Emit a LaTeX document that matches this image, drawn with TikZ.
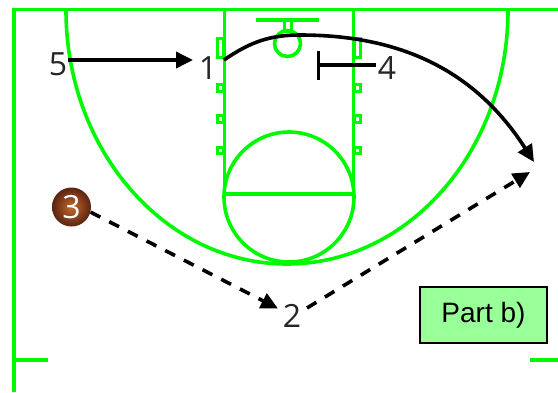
\documentclass[tikz,border=0pt]{standalone}
\usepackage{fontspec}
\setmainfont{Open Sans}
\newfontfamily\partfont{Liberation Sans}
\usetikzlibrary{arrows.meta}
\definecolor{court}{HTML}{00F800}
\definecolor{ink}{HTML}{262626}
\definecolor{partfill}{HTML}{99FF99}
\definecolor{ballin}{HTML}{C4682C}
\definecolor{ballout}{HTML}{5A2410}
\tikzset{
  courtline/.style={draw=court,line width=3.6pt},
  markbox/.style={draw=court,line width=3pt,fill=white},
  player/.style={inner sep=0pt,text=ink,font=\fontsize{32}{32}\selectfont},
  move/.style={draw=black,line width=3.6pt,-{Triangle[length=17pt,width=16pt]}},
  passline/.style={move,dash pattern=on 11pt off 10pt},
  screenline/.style={draw=black,line width=3.6pt},
  partbox/.style={draw=black,line width=2.4pt,fill=partfill,text=black,minimum width=127pt,minimum height=56pt,inner sep=0pt,font=\partfont\fontsize{28}{28}\selectfont},
  ballnode/.style={circle,minimum size=39pt,inner sep=0pt,inner color=ballin,outer color=ballout,text=white,font=\fontsize{32}{32}\selectfont}
}
\begin{document}
\begin{tikzpicture}[x=1pt,y=-1pt]
\useasboundingbox (0,0) rectangle (558,392);
% court
\draw[courtline] (14,392) -- (14,9.5) -- (558,9.5);
\draw[courtline,line width=4.6pt] (14,360) -- (48,360);
\draw[courtline,line width=4.6pt] (530,360) -- (558,360);
\draw[courtline] (66,10) arc[start angle=180,end angle=360,x radius=221,y radius=-254];
\draw[courtline] (224.5,10) -- (224.5,194);
\draw[courtline] (353.5,10) -- (353.5,194);
\draw[courtline] (289,197) circle[radius=65];
\draw[courtline] (224.5,194) -- (353.5,194);
\draw[courtline] (256,20) -- (319,20);
\draw[courtline,line width=3pt] (284,20) rectangle (291.5,31);
\draw[courtline] (287.5,43.5) circle[radius=13];
\foreach \xa/\xb in {217/223.5,354/360}{
  \draw[markbox] (\xa,38) rectangle (\xb,57);
  \foreach \yy in {84.5,115.5,147}{
    \draw[markbox] (\xa,\yy) rectangle (\xb,\yy+6.5);
  }
}
% players
\node[player] (p5) at (58,64.5) {5};
\node[player] (p1) at (208,68.5) {1};
\node[player] (p4) at (387,68.5) {4};
\node[player] (p2) at (292,316) {2};
\node[ballnode] (p3) at (71.5,207) {3};
\coordinate (cutend) at (534,162);
\coordinate (passend) at (530,172);
\coordinate (bartop) at (318.5,51);
\coordinate (barbot) at (318.5,80);
% connectors
\draw[move] ([shift={(10,-4.5)}]p5.center) -- ([shift={(-15,-8.5)}]p1.center);
\draw[move] ([shift={(16,-8.5)}]p1.center) .. controls (250,42) and (270,35) .. (300,35) .. controls (400,35) and (475,70) .. (cutend);
\draw[screenline] ([shift={(-11,-3.5)}]p4.center) -- (318.5,65);
\draw[screenline] (bartop) -- (barbot);
\draw[passline] (p3.-15) -- ([shift={(-14,-7.5)}]p2.center);
\draw[passline] ([shift={(15,-8)}]p2.center) -- (passend);
\node[partbox] (part) at (483.5,315) {Part b)};
\end{tikzpicture}
\end{document}
